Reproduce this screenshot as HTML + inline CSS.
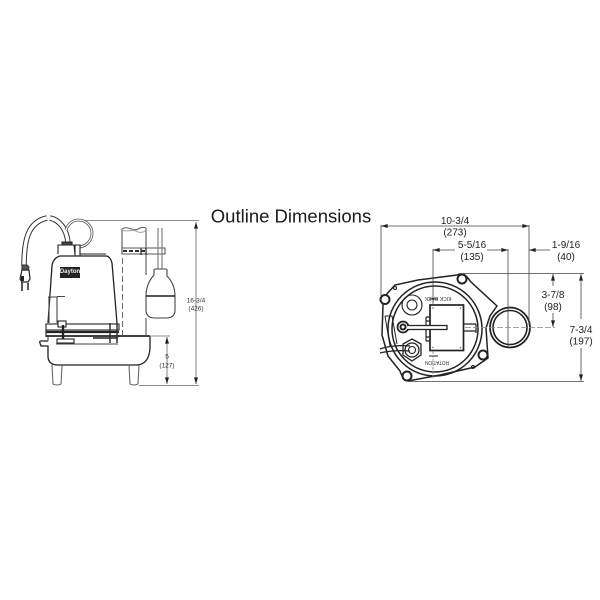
<!DOCTYPE html>
<html><head><meta charset="utf-8"><style>
html,body{margin:0;padding:0;background:#fff}
svg{display:block}
text{font-family:"Liberation Sans",sans-serif;fill:#222;text-anchor:middle;stroke:none}
</style></head><body>
<svg width="600" height="600" viewBox="0 0 600 600" xmlns="http://www.w3.org/2000/svg">
<defs>
<filter id="b" x="-5%" y="-5%" width="110%" height="110%"><feGaussianBlur stdDeviation="0.25"/></filter>
<marker id="a" viewBox="0 0 10 6" refX="10" refY="3" markerWidth="8" markerHeight="4" markerUnits="userSpaceOnUse" orient="auto-start-reverse"><path d="M0 0L10 3L0 6z" fill="#222"/></marker>
</defs>
<text x="291" y="222.500" style="font-size:18.500px;fill:#1a1a1a">Outline Dimensions</text>
<g filter="url(#b)" fill="none" stroke="#222" stroke-width="1.100">
<!-- LEFT PUMP -->
<!-- cord -->
<path d="M24 266C24 240 28 222 47 218" stroke="#333" stroke-width="5.500"/>
<path d="M24 266C24 240 28 222 47 218" stroke="#fff" stroke-width="3.500"/>
<path d="M50 218C60 220 67 230 68 243" stroke="#333" stroke-width="5.500"/>
<path d="M50 218C60 220 67 230 68 243" stroke="#fff" stroke-width="3.500"/>
<path d="M66 230C68 224 73 220 78 220C87 220 92 227 92 233C92 241 86 246 80 247" stroke="#555" stroke-width="2.800"/>
<path d="M66 230C68 224 73 220 78 220C87 220 92 227 92 233C92 241 86 246 80 247" stroke="#fff" stroke-width="1.200"/>
<!-- plug -->
<path d="M22 265h5l2 2l-1 3h-6z" fill="#555" stroke="#333"/>
<path d="M22 270h7l1 9l-2 3h-6l-2-3z" fill="#fff" stroke-width="1.200"/>
<path d="M21 276h3v5h-3z" fill="#222" stroke="none"/>
<path d="M22 282v9M28 283v7" stroke-width="1.500"/>
<!-- top fitting -->
<path d="M58 254v-9h16l1 9" fill="#fff"/>
<path d="M62 245v-3h10v3z" fill="#444" stroke="#222"/>
<path d="M75 256v-11h5v11M80 254h26" fill="#fff"/>
<!-- motor -->
<path d="M48 323L52 266Q53 258 60 256L106 256Q110 256 112 263L117 323" fill="#fff" stroke-width="1.300"/>
<rect x="60" y="267" width="20" height="11" fill="#222" stroke="none"/>
<text x="70" y="273" style="font-size:6px;font-weight:bold;fill:#eee">Dayton</text>
<!-- inner pipe -->
<path d="M48 297H57V323M49 297V323M57 296.500H65" stroke="#444"/>
<!-- flange -->
<rect x="46" y="324" width="73" height="6" fill="#fff"/>
<rect x="58" y="321" width="8" height="6" fill="#fff"/>
<path d="M46 332H119" stroke-width="2.200"/>
<path d="M46 336H119" stroke-width="1.800"/>
<path d="M46 330V337"/>
<path d="M63 325V344" stroke-width="2.400"/>
<rect x="57" y="339" width="17" height="4" fill="#fff"/>
<path d="M93 338H118" stroke-width="1.400"/>
<path d="M110 323V343M117 323V343" stroke="#333" stroke-width="1.500"/>
<!-- basin -->
<path d="M118 336H150" stroke-width="1.700"/>
<path d="M48 341H41Q39 341 40 343L41 346H48V356Q48 365 58 365H136Q149 365 150 348V336" stroke-width="1.300"/>
<path d="M48 337V341M56 344H118" stroke="#444"/>
<!-- legs -->
<path d="M52 365L53 384Q57 386 61 384L62 365" stroke="#666"/>
<path d="M129 365L130 384Q134 386 138 384L139 365" stroke="#666"/>
<!-- pipe -->
<path d="M122.500 336V255" stroke="#555" stroke-width="0.900" stroke-dasharray="6 3"/>
<path d="M146 336V318M146 275V228" stroke="#555"/>
<path d="M122 229V254" stroke="#555"/>
<path d="M122 229C128 225 132 232 138 229C141 227 144 227 146 228" stroke="#666"/>
<path d="M122 230C128 233 132 228 138 232C141 233 144 232 146 230" stroke="#aaa"/>
<!-- bracket -->
<path d="M122 248H165V254H122z" fill="#fff" stroke="#555"/>
<path d="M123 251H145" stroke="#333" stroke-width="2" stroke-dasharray="4 2"/>
<path d="M141 248V255M146 248V255" stroke-width="1.200"/>
<!-- float -->
<path d="M158 228V269M162 228V269" stroke="#777"/>
<path d="M154 275V270Q154 269 156 269H165Q167 269 167 270V276Q175 284 175 296V310Q175 318 166 318H155Q146 318 146 310V296Q146 284 154 275Z" fill="#fff" stroke="#444"/>
<path d="M146 296H175" stroke-width="1.500"/>
<!-- dims -->
<g stroke="#666" stroke-width="0.800">
<path d="M84 220.500H199"/>
<path d="M139 385.500H199"/>
<path d="M149 336H170"/>
<path d="M196 222V384" marker-start="url(#a)" marker-end="url(#a)"/>
<path d="M167 337V384" marker-start="url(#a)" marker-end="url(#a)"/>
</g>

<!-- RIGHT PLAN VIEW -->
<path d="M383 305L385 296L395 285L418 280L457 275Q463 272 467 277L471 282L497 306L490 316L486 328L488 358L475 367L440 375L408 381Q403 380 400 371L388 356L382 335Z" fill="#fff" stroke-width="1.500"/>
<circle cx="435" cy="329" r="47" stroke-width="1.500"/>
<circle cx="435" cy="329" r="43" stroke-width="1.500"/>
<circle cx="510" cy="327.500" r="20" fill="#fff" stroke-width="1.800"/>
<circle cx="510" cy="327.500" r="17" stroke-width="1.600"/>
<circle cx="385" cy="299.500" r="4.500" fill="#fff" stroke-width="2"/>
<circle cx="462" cy="279" r="4.500" fill="#fff" stroke-width="2"/>
<circle cx="483" cy="355" r="4.500" fill="#fff" stroke-width="2"/>
<circle cx="407" cy="376" r="4.500" fill="#fff" stroke-width="2"/>
<circle cx="395" cy="288" r="1.500"/>
<circle cx="473" cy="367" r="1.500"/>
<circle cx="412" cy="305" r="10"/>
<circle cx="412" cy="305" r="5"/>
<path d="M412 339L421 344V355L412 361L403 355V344Z" stroke-width="1.300" fill="#fff"/>
<circle cx="412" cy="350" r="7" stroke-width="1.300"/>
<circle cx="412" cy="350" r="3.500"/>
<path d="M380 349C388 346 400 345 410 346M380 353C388 351 400 350 410 351" stroke-width="1.300"/>
<path d="M385 316H392L397 344M385 316L390 346" stroke-width="1"/>
<rect x="430" y="305" width="33.500" height="45.500" fill="#fff" stroke-width="1.700"/>
<path d="M426 317H430M426 321H430M426 337H430M426 341H430M426 317V341" stroke-width="1.200"/>
<path d="M463.500 324H476M463.500 331H476M476 324V333" stroke-width="1.200"/>
<circle cx="403" cy="327" r="5.500" stroke-width="1.800" fill="#fff"/>
<circle cx="403" cy="327" r="2.500" stroke-width="2"/>
<path d="M407 325.500H447V329.500H407" fill="#fff" stroke-width="1.300"/>
<g fill="#666" stroke="none">
<circle cx="433" cy="308" r="0.800"/><circle cx="460.500" cy="308" r="0.800"/><circle cx="433" cy="347.500" r="0.800"/><circle cx="460.500" cy="347.500" r="0.800"/>
</g>
<path d="M429 299H438" stroke-width="1"/><path d="M429 356H438" stroke-width="1"/>
<text transform="translate(438 297) rotate(180)" x="0" y="0" textLength="27" lengthAdjust="spacingAndGlyphs" style="font-size:5px;fill:#333">KICK BACK</text>
<text transform="translate(437 361) rotate(180)" x="0" y="0" textLength="24" lengthAdjust="spacingAndGlyphs" style="font-size:5px;fill:#333">ROTATION</text>
<!-- dims -->
<g stroke="#444" stroke-width="0.800">
<path d="M381 225V296"/>
<path d="M529 225V325"/>
<path d="M433 249V305"/>
<path d="M433 351V378" stroke="#888" stroke-dasharray="3 1"/>
<path d="M508 249V347"/>
<path d="M463 273.500H584"/>
<path d="M408 381.500H584"/>
<path d="M465 327.500H555" stroke="#888" stroke-dasharray="6 2"/>
<path d="M381 226H529" marker-start="url(#a)" marker-end="url(#a)"/>
<path d="M433 250H455" marker-start="url(#a)"/>
<path d="M487 250H508" marker-end="url(#a)"/>
<path d="M550 250H529" marker-end="url(#a)"/>
<path d="M553 274V286" marker-start="url(#a)"/>
<path d="M553 313V327" marker-end="url(#a)"/>
<path d="M581 274V319" marker-start="url(#a)"/>
<path d="M581 348V381" marker-end="url(#a)"/>
</g>
</g>
<g style="font-size:10px">
<text x="455" y="224">10-3/4</text>
<text x="455" y="235.500">(273)</text>
<text x="472" y="248">5-5/16</text>
<text x="472" y="260">(135)</text>
<text x="566" y="248">1-9/16</text>
<text x="566" y="260">(40)</text>
<text x="553" y="298">3-7/8</text>
<text x="553" y="310">(98)</text>
<text x="581" y="333">7-3/4</text>
<text x="581" y="344.500">(197)</text>
</g>
<g style="font-size:6.500px">
<text x="196" y="302.500" style="fill:#333">16-3/4</text>
<text x="196" y="310.500" style="fill:#333">(426)</text>
<text x="167" y="358.500" style="fill:#333">5</text>
<text x="167" y="367.500" style="fill:#333">(127)</text>
</g>
</svg>
</body></html>
